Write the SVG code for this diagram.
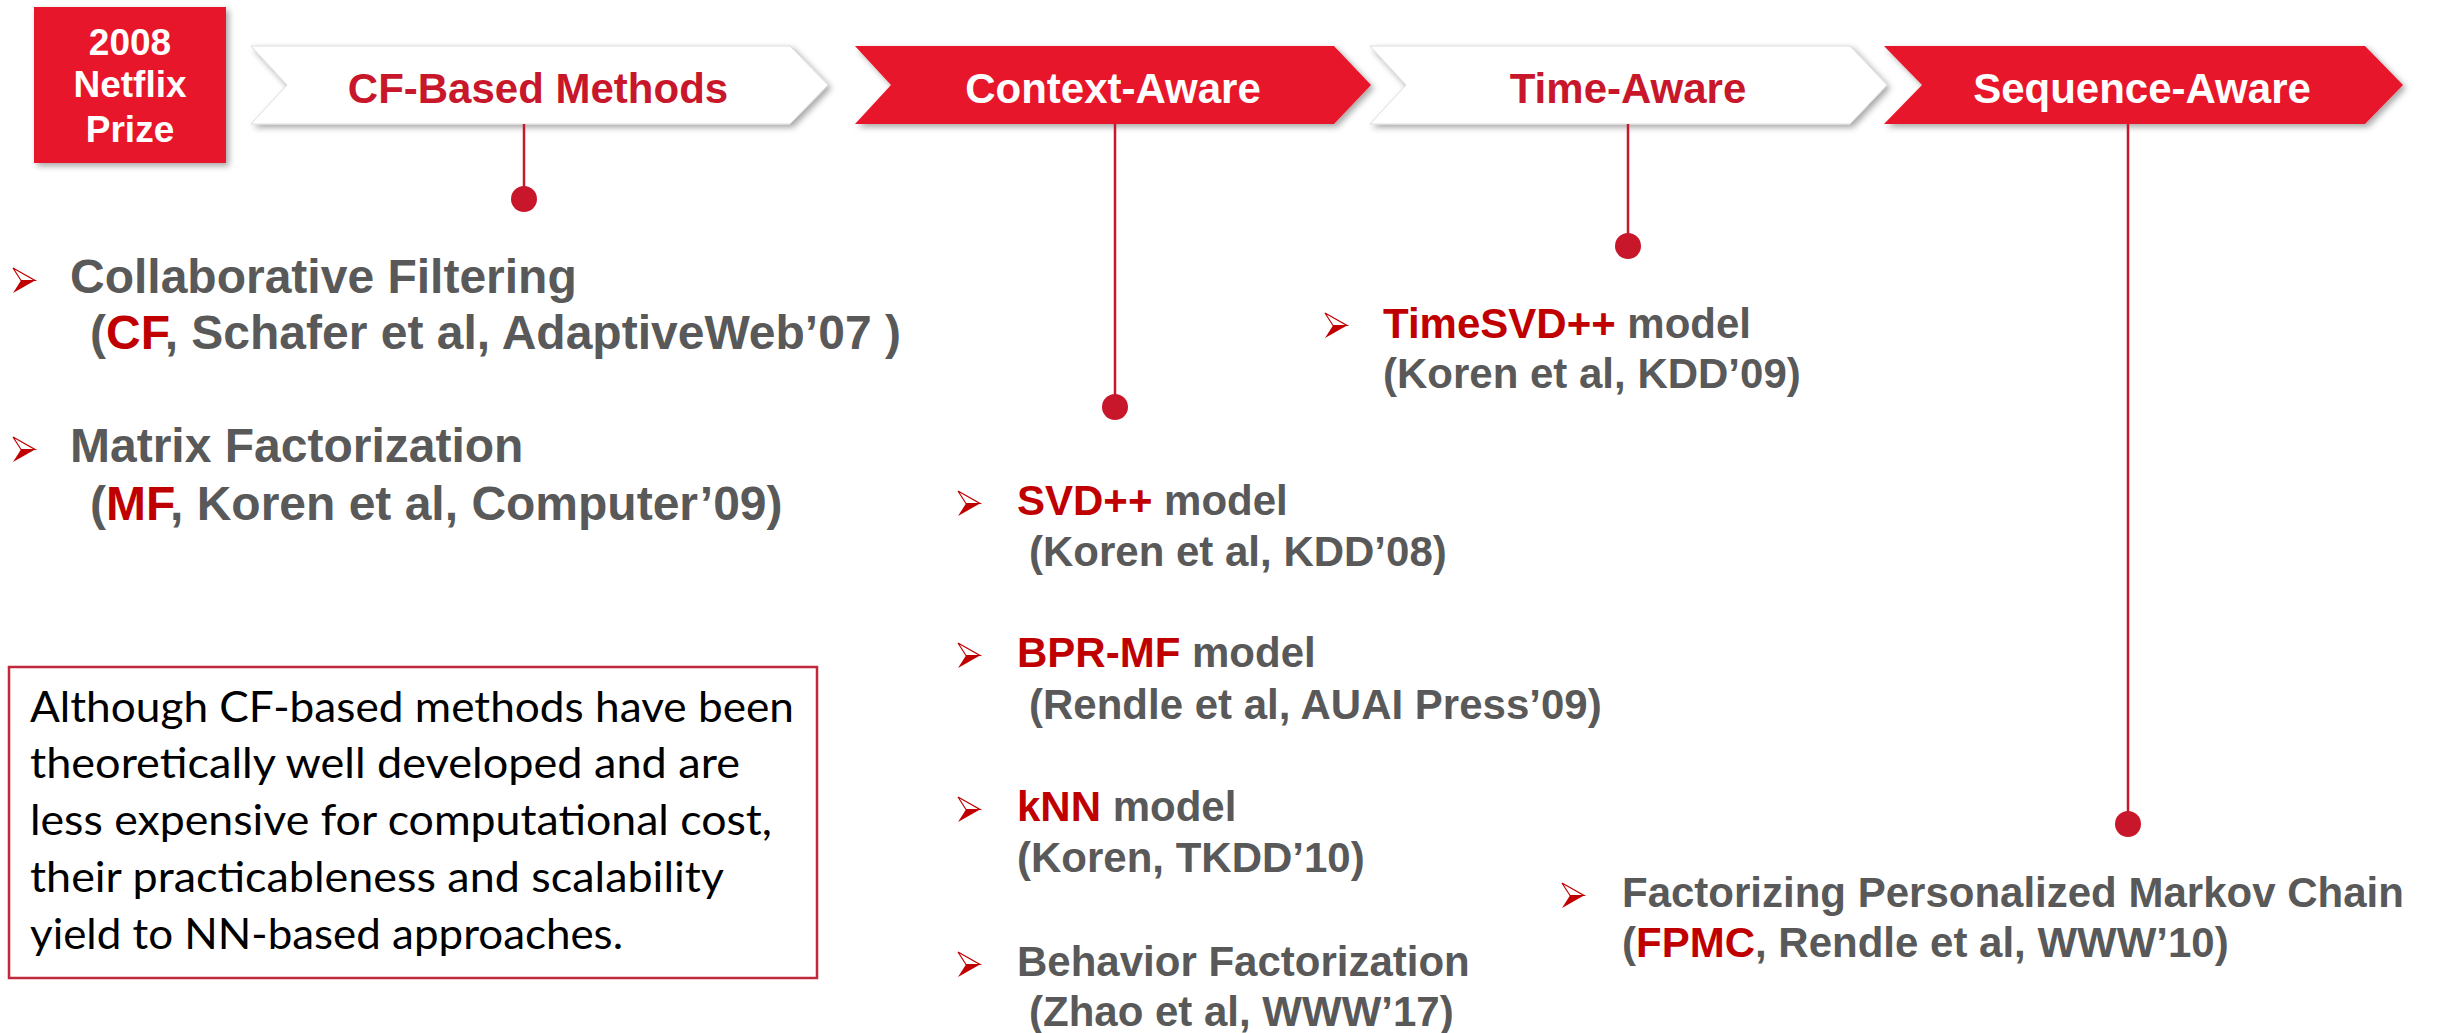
<svg xmlns="http://www.w3.org/2000/svg" xmlns:xlink="http://www.w3.org/1999/xlink" width="2443" height="1033" viewBox="0 0 2443 1033">
  <defs>
    <filter id="shadow" x="-10%" y="-20%" width="120%" height="150%">
      <feDropShadow dx="3" dy="3" stdDeviation="3" flood-color="#000" flood-opacity="0.35"/>
    </filter>
    <g id="bullet">
      <path d="M0,0 L22,12.5 L8,12.5 Z" fill="#ffffff" stroke="#C00000" stroke-width="1.2" stroke-linejoin="miter"/>
      <path d="M8,12.5 L22,12.5 L0,25 Z" fill="#C00000"/>
    </g>
  </defs>
  <style>
    .chev-red { fill: #E8192C; filter: url(#shadow); }
    .chev-white { fill: #ffffff; stroke: #dcdcdc; stroke-width: 1; filter: url(#shadow); }
    .chev-text { font-family: "Liberation Sans", Arial, sans-serif; font-weight: bold; font-size: 42px; text-anchor: middle; }
    .t-white { fill: #ffffff; }
    .t-red { fill: #C8172B; }
    .item { font-family: "Liberation Sans", Arial, sans-serif; font-weight: bold; fill: #595959; }
    .big { font-size: 48px; }
    .mid { font-size: 42px; }
    .em { fill: #C00000; }
    .conn { stroke: #C8172B; stroke-width: 2.5; fill: none; }
    .dot { fill: #C8172B; }
    .note { font-family: Lato, "Open Sans", sans-serif; font-size: 43px; fill: #000000; }
  </style>

  <rect width="2443" height="1033" fill="#ffffff"/>

  <g id="netflix-prize">
    <rect x="34" y="7" width="192" height="156" fill="#E8192C" filter="url(#shadow)"/>
    <text class="chev-text t-white" x="130" y="55" style="font-size:37px">2008</text>
    <text class="chev-text t-white" x="130" y="97" style="font-size:37px">Netflix</text>
    <text class="chev-text t-white" x="130" y="142" style="font-size:37px">Prize</text>
  </g>

  <g id="cf-based">
    <polygon class="chev-white" points="251,46 790,46 828,85 790,124 251,124 287,85"/>
    <text class="chev-text t-red" x="538" y="103">CF-Based Methods</text>
  </g>

  <g id="context-aware">
    <polygon class="chev-red" points="855,46 1334,46 1371,85 1334,124 855,124 891,85"/>
    <text class="chev-text t-white" x="1113" y="103">Context-Aware</text>
  </g>

  <g id="time-aware">
    <polygon class="chev-white" points="1370,46 1850,46 1887,85 1850,124 1370,124 1406,85"/>
    <text class="chev-text t-red" x="1628" y="103">Time-Aware</text>
  </g>

  <g id="sequence-aware">
    <polygon class="chev-red" points="1884,46 2365,46 2403,85 2365,124 1884,124 1922,85"/>
    <text class="chev-text t-white" x="2142" y="103">Sequence-Aware</text>
  </g>

  <g id="connectors">
    <line class="conn" x1="524" y1="124" x2="524" y2="199"/>
    <circle class="dot" cx="524" cy="199" r="13"/>
    <line class="conn" x1="1115" y1="124" x2="1115" y2="407"/>
    <circle class="dot" cx="1115" cy="407" r="13"/>
    <line class="conn" x1="1628" y1="124" x2="1628" y2="246"/>
    <circle class="dot" cx="1628" cy="246" r="13"/>
    <line class="conn" x1="2128" y1="124" x2="2128" y2="824"/>
    <circle class="dot" cx="2128" cy="824" r="13"/>
  </g>

  <g id="cf-items">
    <use xlink:href="#bullet" href="#bullet" x="13" y="268"/>
    <text class="item big" x="70" y="293">Collaborative Filtering</text>
    <text class="item big" x="90" y="349">(<tspan class="em">CF</tspan>, Schafer et al, AdaptiveWeb’07 )</text>
    <use xlink:href="#bullet" href="#bullet" x="13" y="437"/>
    <text class="item big" x="70" y="462">Matrix Factorization</text>
    <text class="item big" x="90" y="520">(<tspan class="em">MF</tspan>, Koren et al, Computer’09)</text>
  </g>

  <g id="note">
    <rect x="9" y="667" width="808" height="311" fill="#ffffff" stroke="#C0283C" stroke-width="2.5"/>
    <text class="note" x="30" y="722" textLength="764" lengthAdjust="spacingAndGlyphs">Although CF-based methods have been</text>
    <text class="note" x="30" y="778" textLength="710" lengthAdjust="spacingAndGlyphs">theoretically well developed and are</text>
    <text class="note" x="30" y="835" textLength="742" lengthAdjust="spacingAndGlyphs">less expensive for computational cost,</text>
    <text class="note" x="30" y="892" textLength="694" lengthAdjust="spacingAndGlyphs">their practicableness and scalability</text>
    <text class="note" x="30" y="949" textLength="593" lengthAdjust="spacingAndGlyphs">yield to NN-based approaches.</text>
  </g>

  <g id="context-items">
    <use xlink:href="#bullet" href="#bullet" x="958" y="491"/>
    <text class="item mid" x="1017" y="515"><tspan class="em">SVD++</tspan> model</text>
    <text class="item mid" x="1029" y="566">(Koren et al, KDD’08)</text>
    <use xlink:href="#bullet" href="#bullet" x="958" y="643"/>
    <text class="item mid" x="1017" y="667"><tspan class="em">BPR-MF</tspan> model</text>
    <text class="item mid" x="1029" y="719">(Rendle et al, AUAI Press’09)</text>
    <use xlink:href="#bullet" href="#bullet" x="958" y="797"/>
    <text class="item mid" x="1017" y="821"><tspan class="em">kNN</tspan> model</text>
    <text class="item mid" x="1017" y="872">(Koren, TKDD’10)</text>
    <use xlink:href="#bullet" href="#bullet" x="958" y="952"/>
    <text class="item mid" x="1017" y="976">Behavior Factorization</text>
    <text class="item mid" x="1029" y="1026">(Zhao et al, WWW’17)</text>
  </g>

  <g id="time-items">
    <use xlink:href="#bullet" href="#bullet" x="1325" y="313"/>
    <text class="item mid" x="1383" y="338"><tspan class="em">TimeSVD++</tspan> model</text>
    <text class="item mid" x="1383" y="388">(Koren et al, KDD’09)</text>
  </g>

  <g id="sequence-items">
    <use xlink:href="#bullet" href="#bullet" x="1562" y="883"/>
    <text class="item mid" x="1622" y="907">Factorizing Personalized Markov Chain</text>
    <text class="item mid" x="1622" y="957">(<tspan class="em">FPMC</tspan>, Rendle et al, WWW’10)</text>
  </g>
</svg>
